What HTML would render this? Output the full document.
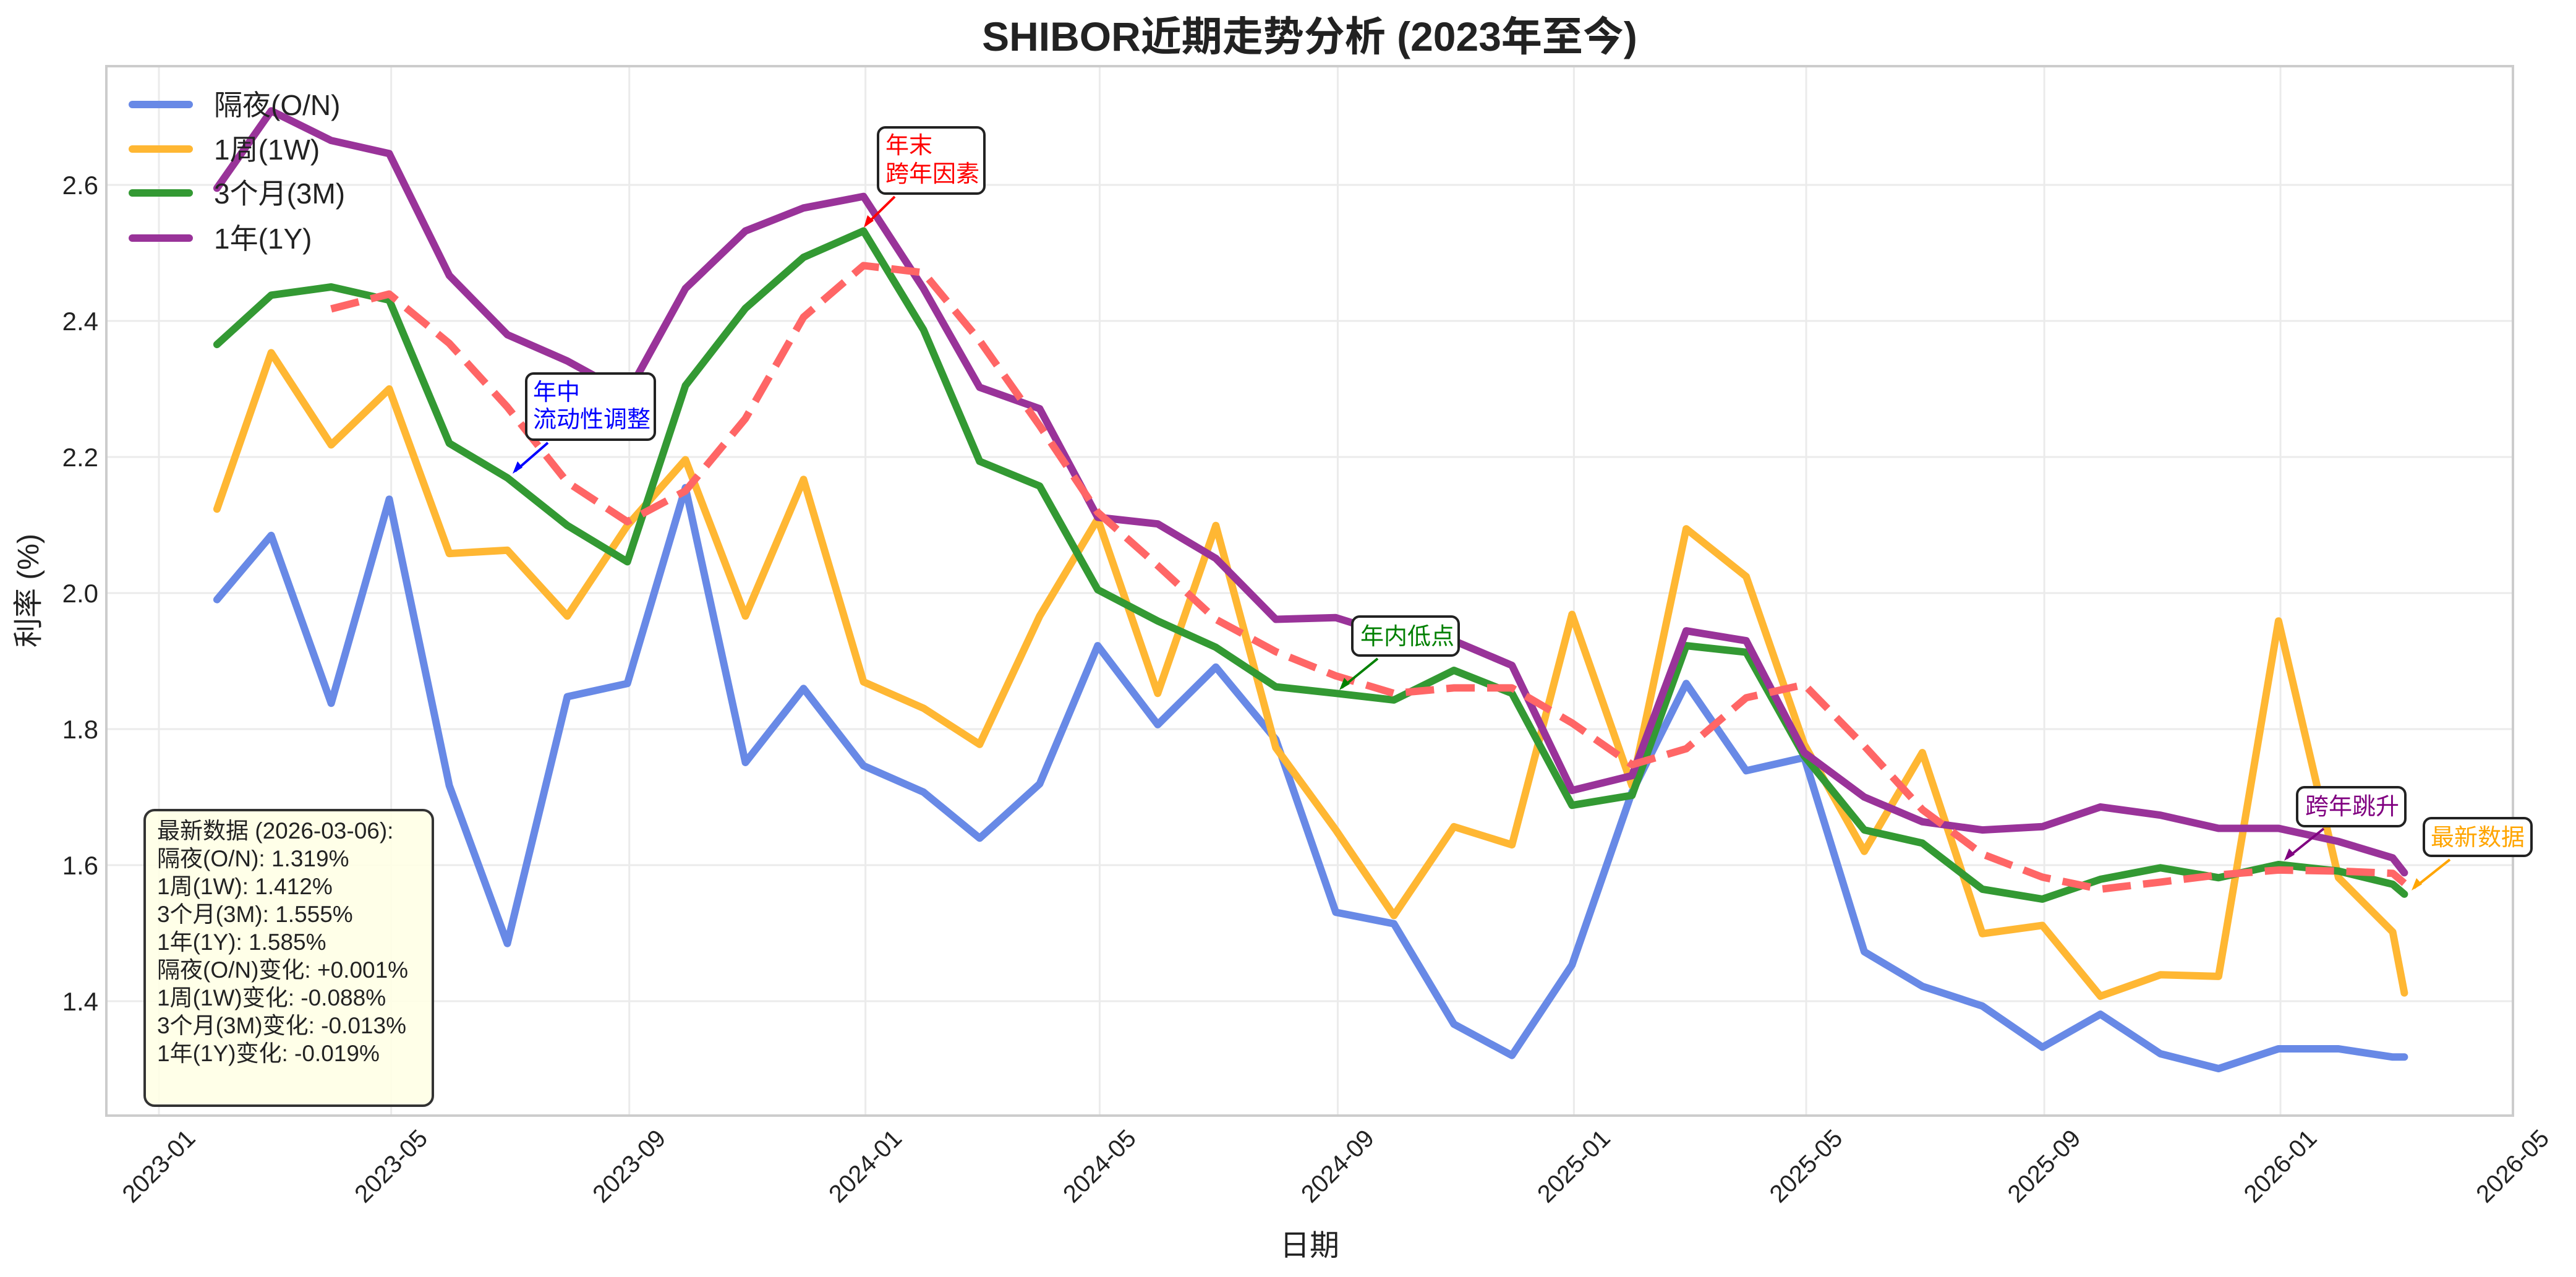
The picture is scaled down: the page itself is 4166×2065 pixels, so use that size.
<!DOCTYPE html>
<html><head><meta charset="utf-8"><style>
html,body{margin:0;padding:0;background:#fff;}
svg{display:block;}
text{font-family:"Liberation Sans","Noto Sans CJK SC",sans-serif;}
</style></head><body>
<svg id="s" width="4166" height="2065" viewBox="0 0 4166 2065" xmlns="http://www.w3.org/2000/svg">
<rect width="4166" height="2065" fill="#fff"/>
<g id="grid" stroke="#ebebeb" stroke-width="3"></g>
<rect x="172" y="107" width="3892" height="1697" fill="none" stroke="#cccccc" stroke-width="4"/>
<g id="lines" fill="none" stroke-linejoin="round" stroke-linecap="round"></g>
<text x="2118" y="82" font-size="66" font-weight="bold" text-anchor="middle" fill="#222">SHIBOR近期走势分析 (2023年至今)</text>
<g font-size="42" fill="#222" text-anchor="end" id="yt"></g>
<g font-size="40" fill="#222" id="xt"></g>
<text transform="translate(62,955) rotate(-90)" font-size="48" text-anchor="middle" fill="#222">利率 (%)</text>
<text x="2118" y="2030" font-size="48" text-anchor="middle" fill="#222">日期</text>
<g stroke-width="12" stroke-linecap="round">
<line x1="214" y1="169" x2="306" y2="169" stroke="#6889e6"/>
<line x1="214" y1="241" x2="306" y2="241" stroke="#ffb733"/>
<line x1="214" y1="312" x2="306" y2="312" stroke="#339933"/>
<line x1="214" y1="385" x2="306" y2="385" stroke="#993399"/>
</g>
<g font-size="46" fill="#222">
<text x="346" y="186">隔夜(O/N)</text>
<text x="346" y="258">1周(1W)</text>
<text x="346" y="329">3个月(3M)</text>
<text x="346" y="402">1年(1Y)</text>
</g>
<rect x="234" y="1310" width="466" height="478" rx="16" fill="#ffffe6" fill-opacity="0.9" stroke="#333" stroke-width="4"/>
<g font-size="37" fill="#222">
<text x="254" y="1356">最新数据 (2026-03-06):</text>
<text x="254" y="1401">隔夜(O/N): 1.319%</text>
<text x="254" y="1446">1周(1W): 1.412%</text>
<text x="254" y="1491">3个月(3M): 1.555%</text>
<text x="254" y="1536">1年(1Y): 1.585%</text>
<text x="254" y="1581">隔夜(O/N)变化: +0.001%</text>
<text x="254" y="1626">1周(1W)变化: -0.088%</text>
<text x="254" y="1671">3个月(3M)变化: -0.013%</text>
<text x="254" y="1716">1年(1Y)变化: -0.019%</text>
</g>
<g font-size="38">
<rect x="851" y="604" width="208" height="107" rx="12" fill="#fff" stroke="#222" stroke-width="4"/>
<text x="862" y="647" fill="#0000ff">年中</text>
<text x="862" y="691" fill="#0000ff">流动性调整</text>
<line x1="886" y1="716" x2="833" y2="762" stroke="#0000ff" stroke-width="4"/>
<path d="M829,766 l8,-20 l8,10 z" fill="#0000ff"/>

<rect x="1420" y="206" width="172" height="107" rx="12" fill="#fff" stroke="#222" stroke-width="4"/>
<text x="1432" y="248" fill="#ff0000">年末</text>
<text x="1432" y="294" fill="#ff0000">跨年因素</text>
<line x1="1447" y1="318" x2="1400" y2="364" stroke="#ff0000" stroke-width="4"/>
<path d="M1397,368 l6,-20 l10,9 z" fill="#ff0000"/>

<rect x="2187" y="997" width="172" height="63" rx="12" fill="#fff" stroke="#222" stroke-width="4"/>
<text x="2200" y="1042" fill="#008000">年内低点</text>
<line x1="2228" y1="1065" x2="2170" y2="1112" stroke="#008000" stroke-width="4"/>
<path d="M2166,1116 l8,-20 l9,10 z" fill="#008000"/>

<rect x="3715" y="1273" width="175" height="63" rx="12" fill="#fff" stroke="#222" stroke-width="4"/>
<text x="3728" y="1317" fill="#800080">跨年跳升</text>
<line x1="3758" y1="1340" x2="3698" y2="1388" stroke="#800080" stroke-width="4"/>
<path d="M3694,1392 l8,-20 l9,10 z" fill="#800080"/>

<rect x="3920" y="1323" width="174" height="61" rx="12" fill="#fff" stroke="#222" stroke-width="4"/>
<text x="3931" y="1367" fill="#ffa500">最新数据</text>
<line x1="3962" y1="1390" x2="3904" y2="1436" stroke="#ffa500" stroke-width="4"/>
<path d="M3900,1440 l8,-20 l9,10 z" fill="#ffa500"/>
</g>
</svg>
<script>
(function(){
var NS="http://www.w3.org/2000/svg";
var base=Date.UTC(2023,0,1);
function X(y,m,d){return 257+((Date.UTC(y,m,d)-base)/86400000)*3.1305;}
function Y(ys){return 299+(ys-113)*2.661;}
var grid=document.getElementById('grid');
var xt=document.getElementById('xt');
var ticks=[[2023,0],[2023,4],[2023,8],[2024,0],[2024,4],[2024,8],[2025,0],[2025,4],[2025,8],[2026,0],[2026,4]];
ticks.forEach(function(t){
 var x=X(t[0],t[1],1);
 if(x<4060){var l=document.createElementNS(NS,'line');l.setAttribute('x1',x);l.setAttribute('x2',x);l.setAttribute('y1',107);l.setAttribute('y2',1804);grid.appendChild(l);}
 var tx=document.createElementNS(NS,'text');
 tx.setAttribute('transform','translate('+x+',1886) rotate(-45)');
 tx.setAttribute('text-anchor','middle');tx.setAttribute('dominant-baseline','central');
 tx.textContent=t[0]+'-'+(t[1]+1<10?'0':'')+(t[1]+1);
 xt.appendChild(tx);
});
var yt=document.getElementById('yt');
for(var i=0;i<7;i++){
 var v=1.4+0.2*i, y=299+(2.6-v)*1100;
 var l=document.createElementNS(NS,'line');l.setAttribute('x1',172);l.setAttribute('x2',4064);l.setAttribute('y1',y);l.setAttribute('y2',y);grid.appendChild(l);
 var tx=document.createElementNS(NS,'text');tx.setAttribute('x',159);tx.setAttribute('y',y+15);tx.textContent=v.toFixed(1);yt.appendChild(tx);
}
var xs=[];
for(var k=0;k<38;k++){var yy=2023+Math.floor(k/12),mm=k%12;xs.push(X(yy,mm+1,0));}
xs.push(X(2026,2,6));
var blue=[365,326,428,304,478,574,424,416,297,464,419,466,482,510,477,393,441,406,450,555,562,623,642,587,482,416,469,461,579,600,612,637,617,641,650,638,638,643,643];
var orange=[310,215,271,237,337,335,375,320,280,375,292,415,431,453,375,316,422,320,455,505,557,503,514,374,478,322,351,453,518,458,568,563,606,593,594,378,534,567,604];
var green=[210,180,175,183,270,291,320,342,235,188,157,141,201,281,296,359,378,394,418,422,426,408,422,490,484,393,397,460,505,513,541,547,535,528,534,526,530,538,544];
var purple=[115,68,86,94,168,204,220,240,176,141,127,120,176,236,249,315,319,340,377,376,387,390,405,481,472,384,390,458,485,500,505,503,491,496,504,504,512,522,531];
var g=document.getElementById('lines');
function poly(arr,col,start,dash){
 var pts=[];for(var i=start;i<arr.length;i++){if(arr[i]!=null)pts.push(xs[i].toFixed(1)+','+Y(arr[i]).toFixed(1));}
 var p=document.createElementNS(NS,'polyline');p.setAttribute('points',pts.join(' '));
 p.setAttribute('stroke',col);p.setAttribute('stroke-width','12');
 if(dash){p.setAttribute('stroke-dasharray','46 20');p.setAttribute('stroke-linecap','butt');}
 g.appendChild(p);
}
poly(blue,'#6889e6',0);
poly(orange,'#ffb733',0);
poly(green,'#339933',0);
poly(purple,'#993399',0);
var ma=[];for(var i=0;i<green.length;i++){ma.push(i<2?null:(green[i]+green[i-1]+green[i-2])/3);}
poly(ma,'#ff6666',2,true);
})();
</script>
</body></html>
